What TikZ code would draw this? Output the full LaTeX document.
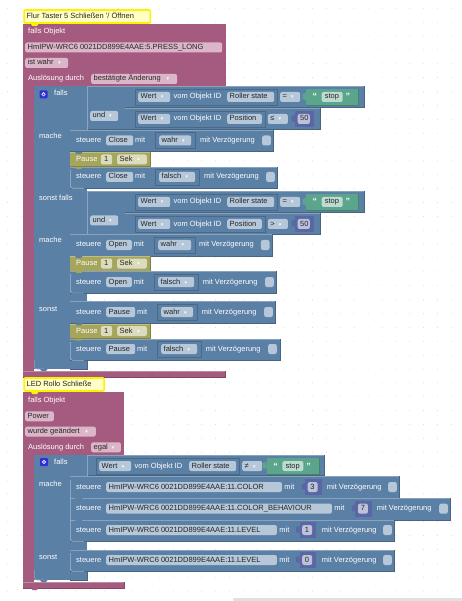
\documentclass[tikz,border=0pt]{standalone}
\usepackage{fontspec}
\setmainfont{Liberation Sans}
\newfontfamily\symfont{DejaVu Sans}
\definecolor{ropink}{HTML}{A55B80}
\definecolor{ropinkfld}{HTML}{DBB6C8}
\definecolor{roblue}{HTML}{5B80A5}
\definecolor{robluefld}{HTML}{B5C7D9}
\definecolor{roolive}{HTML}{A5A55B}
\definecolor{roolivefld}{HTML}{DBDBBD}
\definecolor{rogreen}{HTML}{5BA58C}
\definecolor{rogreenfld}{HTML}{BDDBD1}
\definecolor{ronum}{HTML}{5B67A5}
\definecolor{ronumfld}{HTML}{BDC2DB}
\definecolor{rogear}{HTML}{2F2FD8}
\definecolor{gridgrey}{HTML}{D8D8D8}
\definecolor{cmtfill}{HTML}{FFFFC4}
\tikzset{
  lbl/.style={anchor=west,inner sep=0pt,text=white,font=\fontsize{7.5}{9}\selectfont,text height=5.5pt,text depth=1.5pt},
  fldbase/.style={anchor=west,inner xsep=2.5pt,inner ysep=0pt,minimum height=10pt,rounded corners=2pt,text=black!85,font=\fontsize{7.5}{9}\selectfont,text height=5.5pt,text depth=1.5pt},
  pinkfld/.style={fldbase,fill=ropinkfld},
  bluefld/.style={fldbase,fill=robluefld},
  olivefld/.style={fldbase,fill=roolivefld},
  greenfld/.style={fldbase,fill=rogreenfld},
  numfld/.style={fldbase,fill=ronumfld},
  cmtfld/.style={fldbase,fill=cmtfill,draw=yellow,line width=1.6pt,rounded corners=1pt,minimum height=13pt},
  chk/.style={anchor=west,inner sep=0pt,minimum width=8.6pt,minimum height=10pt,fill=robluefld,rounded corners=2pt},
  slotline/.style={draw=roblue!82!black,line width=.4pt},
  griddot/.style={fill=gridgrey}
}
% filled bar with light top edge and dark lower edge
\newcommand{\blockbar}[5]{
  \fill[#1] (#2,#3) rectangle (#4,#5);
  \draw[#1!72!white,line width=.5pt] (#2,#3+.25) -- (#4,#3+.25);
  \draw[#1!78!black,line width=.5pt] (#2,#5-.25) -- (#4,#5-.25) -- (#4,#3);
}
\newcommand{\nub}[3]{\fill[#1] (#2,#3) -- (#2+1.5,#3+2) -- (#2+6,#3+2) -- (#2+7.5,#3) -- cycle;}
\newcommand{\fld}[6]{
  \pgfmathsetmacro{\fldw}{(#4)-(#3)-5}
  \node[#1] (#2) at (#3,#5) {\hbox to \fldw pt{#6\hfil}};
}
\newcommand{\ddtip}{\hfil{\symfont\fontsize{5}{5}\selectfont\textcolor{white}{▾}}}
% one statement row: prefix, y, target, target end, value, value from, value to, label x, box x
\newcommand{\steuererow}[9]{
  \node[lbl] (#1s) at (76,#2) {steuere};
  \fld{bluefld}{#1t}{106}{#4}{#2}{#3}
  \node[lbl] (#1m) at (#4+2,#2) {mit};
  \draw[slotline] (#6-4,#2-8) rectangle (#7+4,#2+8);
  \fld{bluefld}{#1v}{#6}{#7}{#2}{#5\ddtip}
  \node[lbl] (#1d) at (#8,#2) {mit Verzögerung};
  \node[chk] (#1c) at (#9,#2) {};
}
% statement row with number block
\newcommand{\ledrow}[8]{
  \node[lbl] (#1s) at (76,#2) {steuere};
  \fld{bluefld}{#1t}{106}{#4}{#2}{#3}
  \node[lbl] (#1m) at (#4+2.5,#2) {mit};
  \numblock{#1n}{#6}{#6+16.8}{#2}{#5}
  \node[lbl] (#1d) at (#7,#2) {mit Verzögerung};
  \node[chk] (#1c) at (#8,#2) {};
}
\newcommand{\numblock}[5]{
  \fill[ronum] (#2,#4-8) rectangle (#3,#4+8);
  \fill[ronum] (#2,#4-4) -- (#2-3.5,#4-3) -- (#2-3.5,#4+2) -- (#2,#4+3) -- cycle;
  \fld{numfld}{#1}{#2+2.5}{#3-4.4}{#4}{\hfil#5\hfil}
}
\newcommand{\stopblock}[3]{
  \fill[rogreen] (#2,#3-8) rectangle (#2+52.5,#3+8);
  \fill[rogreen] (#2,#3-4) -- (#2-3.5,#3-3) -- (#2-3.5,#3+2) -- (#2,#3+3) -- cycle;
  \draw[rogreen!78!black,line width=.4pt] (#2,#3+8) -- (#2+52.5,#3+8) -- (#2+52.5,#3-8);
  \node[lbl,font=\fontsize{9}{9}\selectfont\bfseries] (#1a) at (#2+6.5,#3+1) {“};
  \fld{greenfld}{#1}{#2+15.5}{#2+36.5}{#3}{\hfil stop\hfil}
  \node[lbl,font=\fontsize{9}{9}\selectfont\bfseries] (#1b) at (#2+39.5,#3+1) {”};
}
% Wert row of a condition
\newcommand{\wertrow}[7]{
  \draw[slotline] (#3-3,#2-8) rectangle (#5+3.5,#2+8);
  \fld{bluefld}{#1w}{#3}{#3+32}{#2}{Wert\ddtip}
  \node[lbl] (#1o) at (#3+35.5,#2) {vom Objekt ID};
  \fld{bluefld}{#1f}{#4}{#5}{#2}{#6}
  \fld{bluefld}{#1c}{#5+6}{#5+26}{#2}{#7\ddtip}
}
\newcommand{\pauserow}[2]{
  \blockbar{roolive}{70}{#2-7.5}{150}{#2+7.5}
  \node[lbl] (#1p) at (76,#2) {Pause};
  \fld{olivefld}{#1z}{100.7}{112}{#2}{\hfil 1\hfil}
  \fld{olivefld}{#1e}{117}{146.7}{#2}{Sek\ddtip}
}
\newcommand{\stackedge}[2]{\draw[roblue!55!white,line width=.6pt,rounded corners=2.5pt] (70.4,#1) -- (70.4,#2) -- (84,#2);}
\newcommand{\gearbox}[3]{
  \node[fill=rogear,rounded corners=1pt,minimum size=8pt,inner sep=0pt] (#1) at (#2,#3) {};
  \draw[white,line width=.7pt] (#1) circle (1.7pt);
}
\begin{document}
\begin{tikzpicture}[x=1pt,y=-1pt]
\useasboundingbox (0,0) rectangle (462,601);
\foreach \dx in {0,...,33}
  \foreach \dy in {0,...,42}
    \fill[griddot] (7.3+\dx*13.875,8.3+\dy*13.875) circle (.5);
\fill[gridgrey!80!white,rounded corners=1pt] (233,598) rectangle (462,601);

% first rule
\fill[ropink] (22.5,24) rectangle (226,86);
\fill[ropink] (22.5,86) rectangle (34,377);
\blockbar{ropink}{22.5}{371}{225.7}{377}
\fld{cmtfld}{titelA}{23.3}{149.5}{16.5}{Flur Taster 5 Schließen '/ Öffnen}
\nub{yellow}{31}{24}
\node[lbl] (fallsA) at (28,32) {falls Objekt};
\fld{pinkfld}{objA}{25}{222}{47.5}{HmIPW-WRC6 0021DD899E4AAE:5.PRESS\_LONG}
\fld{pinkfld}{wahrA}{25}{68}{63}{ist wahr\ddtip}
\node[lbl] (ausA) at (28,79) {Auslösung durch};
\fld{pinkfld}{aendA}{91}{177}{79}{bestätigte Änderung\ddtip}

% blue block of first rule
\fill[roblue] (34,86) rectangle (70,369);
\fill[roblue] (70,86) rectangle (87,130);
\fill[roblue] (70,188) rectangle (87,234);
\fill[roblue] (70,293) rectangle (87,301);
\fill[roblue] (70,360) rectangle (87,369);
\draw[roblue!78!black,line width=.5pt] (70,369) -- (87,369) -- (87,360);
\draw[roblue!72!white,line width=.6pt,rounded corners=3pt] (34.3,360) -- (34.3,369) -- (44,369);
\nub{roblue}{40}{369}
\nub{ropink}{31}{377}
\blockbar{roblue}{87}{86}{125}{130}
\blockbar{roblue}{87}{191.5}{125}{234.5}
\draw[roblue!70!white,line width=.4pt] (87,86) -- (87,130) (125,86) -- (125,130);
\draw[roblue!70!white,line width=.4pt] (87,191.5) -- (87,234.5) (125,191.5) -- (125,234.5);
\blockbar{roblue}{125}{86}{364}{108}
\blockbar{roblue}{125}{108}{320.5}{130}
\blockbar{roblue}{125}{191.5}{364}{213}
\blockbar{roblue}{125}{213}{320.5}{234.5}
\gearbox{gearA}{43.5}{94.3}
\node[lbl] (ifA) at (54,94) {falls};
\node[lbl] (macheA) at (39,137) {mache};
\node[lbl] (elifA) at (39,199) {sonst falls};
\node[lbl] (macheB) at (39,241) {mache};
\node[lbl] (elseA) at (39,309) {sonst};
\fld{bluefld}{undA}{90}{118}{116}{und\ddtip}
\fld{bluefld}{undB}{90}{118}{220.5}{und\ddtip}

\wertrow{cA}{97}{138}{227}{274}{Roller state}{=}
\stopblock{stopA}{306}{97}
\wertrow{cB}{119}{138}{227}{261.7}{Position}{≤}
\numblock{numA}{295}{314}{119}{50}
\wertrow{cC}{202}{138}{227}{274}{Roller state}{=}
\stopblock{stopB}{306}{202}
\wertrow{cD}{224}{138}{227}{261.7}{Position}{>}
\numblock{numB}{295}{314}{224}{50}

\blockbar{roblue}{70}{130}{273}{152}
\steuererow{rA}{140.5}{Close}{133}{wahr}{159}{191}{200}{262}
\pauserow{pA}{159.5}
\nub{roblue}{75}{152}
\blockbar{roblue}{70}{167}{277}{188.5}
\nub{roolive}{75}{167}
\steuererow{rB}{177}{Close}{133}{falsch}{159}{195}{204}{266}
\stackedge{170}{188.3}

\blockbar{roblue}{70}{234.5}{272.6}{256}
\steuererow{rC}{245}{Open}{131.7}{wahr}{158}{191}{199}{260.7}
\pauserow{pB}{263.5}
\nub{roblue}{75}{256}
\blockbar{roblue}{70}{271}{276}{293.3}
\nub{roolive}{75}{271}
\steuererow{rD}{282}{Open}{131.7}{falsch}{158}{194}{202.7}{265}
\stackedge{274}{293.1}

\blockbar{roblue}{70}{301}{275.6}{323.3}
\steuererow{rE}{312}{Pause}{135}{wahr}{161}{193}{201.7}{264}
\pauserow{pC}{331}
\nub{roblue}{75}{323.3}
\blockbar{roblue}{70}{338.5}{280}{360.5}
\nub{roolive}{75}{338.5}
\steuererow{rF}{349}{Pause}{135}{falsch}{161}{197}{205.7}{268}
\stackedge{342}{360.3}

% second rule
\fill[ropink] (22.5,392) rectangle (124,455);
\fill[ropink] (22.5,455) rectangle (34,588);
\blockbar{ropink}{22.5}{581.7}{124}{588}
\fld{cmtfld}{titelB}{23.3}{103.3}{384.5}{LED Rollo Schließe}
\nub{yellow}{31}{392}
\node[lbl] (fallsB) at (28,400) {falls Objekt};
\fld{pinkfld}{objB}{25}{53.6}{416.3}{Power}
\fld{pinkfld}{wahrB}{25}{95.6}{431.5}{wurde geändert\ddtip}
\node[lbl] (ausB) at (28,447) {Auslösung durch};
\fld{pinkfld}{aendB}{91}{120.7}{447.3}{egal\ddtip}

\fill[roblue] (34,455) rectangle (70,580);
\fill[roblue] (70,455) rectangle (87,476);
\fill[roblue] (70,541) rectangle (87,550);
\fill[roblue] (70,571) rectangle (87,580);
\draw[roblue!78!black,line width=.5pt] (70,580) -- (87,580) -- (87,571);
\draw[roblue!72!white,line width=.6pt,rounded corners=3pt] (34.3,570) -- (34.3,580) -- (44,580);
\nub{roblue}{40}{580}
\nub{ropink}{31}{588}
\blockbar{roblue}{87}{455}{324.7}{475.5}
\draw[roblue!70!white,line width=.4pt] (87,455) -- (87,476);
\gearbox{gearB}{44}{462}
\node[lbl] (ifB) at (54,462) {falls};
\node[lbl] (macheC) at (39,484) {mache};
\node[lbl] (elseB) at (39,557) {sonst};
\wertrow{cE}{466}{99}{189}{236}{Roller state}{≠}
\stopblock{stopC}{266.7}{466}

\blockbar{roblue}{70}{476}{399}{498}
\ledrow{lA}{487}{HmIPW-WRC6 0021DD899E4AAE:11.COLOR}{281.7}{3}{305}{326.7}{388}
\blockbar{roblue}{70}{498}{450}{520}
\nub{roblue}{75}{498}
\ledrow{lB}{508.7}{HmIPW-WRC6 0021DD899E4AAE:11.COLOR\_BEHAVIOUR}{331.7}{7}{355.3}{376.7}{439}
\blockbar{roblue}{70}{520}{394.7}{541.5}
\nub{roblue}{75}{520}
\ledrow{lC}{530}{HmIPW-WRC6 0021DD899E4AAE:11.LEVEL}{276.7}{1}{299.5}{321.7}{383}
\stackedge{480}{541.3}
\blockbar{roblue}{70}{550}{394.7}{571.5}
\ledrow{lD}{560}{HmIPW-WRC6 0021DD899E4AAE:11.LEVEL}{276.7}{0}{299.5}{321.7}{383}
\stackedge{553}{571.3}
\end{tikzpicture}
\end{document}
